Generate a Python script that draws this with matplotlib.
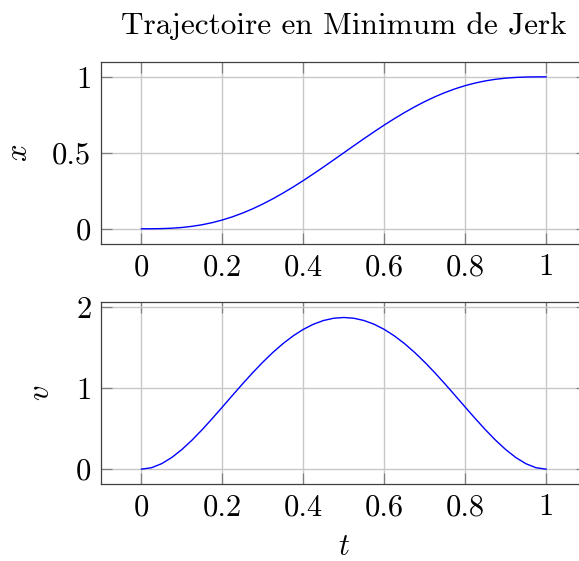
import matplotlib
matplotlib.use('Agg')
import matplotlib.pyplot as plt

# Minimum jerk trajectory
t = [0.0, 0.025, 0.05, 0.075, 0.1, 0.125, 0.15, 0.175, 0.2, 0.225, 0.25,
     0.275, 0.3, 0.325, 0.35, 0.375, 0.4, 0.425, 0.45, 0.475, 0.5,
     0.525, 0.55, 0.575, 0.6, 0.625, 0.65, 0.675, 0.7, 0.725, 0.75,
     0.775, 0.8, 0.825, 0.85, 0.875, 0.9, 0.925, 0.95, 0.975, 1.0]
x = [0.0, 0.0002, 0.0012, 0.0038, 0.0086, 0.0161, 0.0266, 0.0405, 0.0579,
     0.0789, 0.1035, 0.1316, 0.1631, 0.1977, 0.2352, 0.2752, 0.3174, 0.3615,
     0.4069, 0.4532, 0.5, 0.5468, 0.5931, 0.6385, 0.6826, 0.7248, 0.7648,
     0.8023, 0.8369, 0.8684, 0.8965, 0.9211, 0.9421, 0.9595, 0.9734, 0.9839,
     0.9914, 0.9962, 0.9988, 0.9998, 1.0]
v = [0.0, 0.0178, 0.0677, 0.1444, 0.2430, 0.3589, 0.4877, 0.6253, 0.7680,
     0.9122, 1.0547, 1.1925, 1.3230, 1.4438, 1.5527, 1.6479, 1.7280, 1.7916,
     1.8377, 1.8656, 1.875, 1.8656, 1.8377, 1.7916, 1.7280, 1.6479, 1.5527,
     1.4438, 1.3230, 1.1925, 1.0547, 0.9122, 0.7680, 0.6253, 0.4877, 0.3589,
     0.2430, 0.1444, 0.0677, 0.0178, 0.0]

t_ticks = [0, 0.2, 0.4, 0.6, 0.8, 1]
t_labels = ['0', '0.2', '0.4', '0.6', '0.8', '1']
x_ticks = [0, 0.5, 1]
x_labels = ['0', '0.5', '1']
v_ticks = [0, 1, 2]
v_labels = ['0', '1', '2']

plt.rcParams['font.family'] = 'serif'
plt.rcParams['font.serif'] = ['cmr10']
plt.rcParams['mathtext.fontset'] = 'cm'
plt.rcParams['axes.formatter.use_mathtext'] = True

FS = 22

fig = plt.figure(figsize=(5.79, 5.61), dpi=100)
ax1 = fig.add_axes([0.1744, 0.5651, 0.8386, 0.325])
ax2 = fig.add_axes([0.1744, 0.1367, 0.8386, 0.3244])


def style(ax, yticks, ylabels):
    ax.set_xlim(-0.1, 1.1)
    ax.set_xticks(t_ticks)
    ax.set_xticklabels(t_labels, fontsize=FS)
    ax.set_yticks(yticks)
    ax.set_yticklabels(ylabels, fontsize=FS)
    ax.grid(True, color='#c8c8c8', linewidth=1.0)
    ax.set_axisbelow(True)
    ax.tick_params(direction='in', length=7.9, width=0.9, color='#808080',
                   top=True, right=True, pad=7)
    for s in ax.spines.values():
        s.set_color('#404040')
        s.set_linewidth(0.9)


ax1.plot(t, x, color='blue', linewidth=1.0)
ax1.set_ylim(-0.1, 1.1)
style(ax1, x_ticks, x_labels)
ax1.set_ylabel('$x$', fontsize=FS, labelpad=14)
ax1.set_title('Trajectoire en Minimum de Jerk', fontsize=22.5, pad=20)

ax2.plot(t, v, color='blue', linewidth=1.0)
ax2.set_ylim(-0.1875, 2.0625)
style(ax2, v_ticks, v_labels)
ax2.set_ylabel('$v$', fontsize=FS, labelpad=15)
ax2.set_xlabel('$t$', fontsize=FS, labelpad=9)

fig.savefig('out.png', dpi=100)
